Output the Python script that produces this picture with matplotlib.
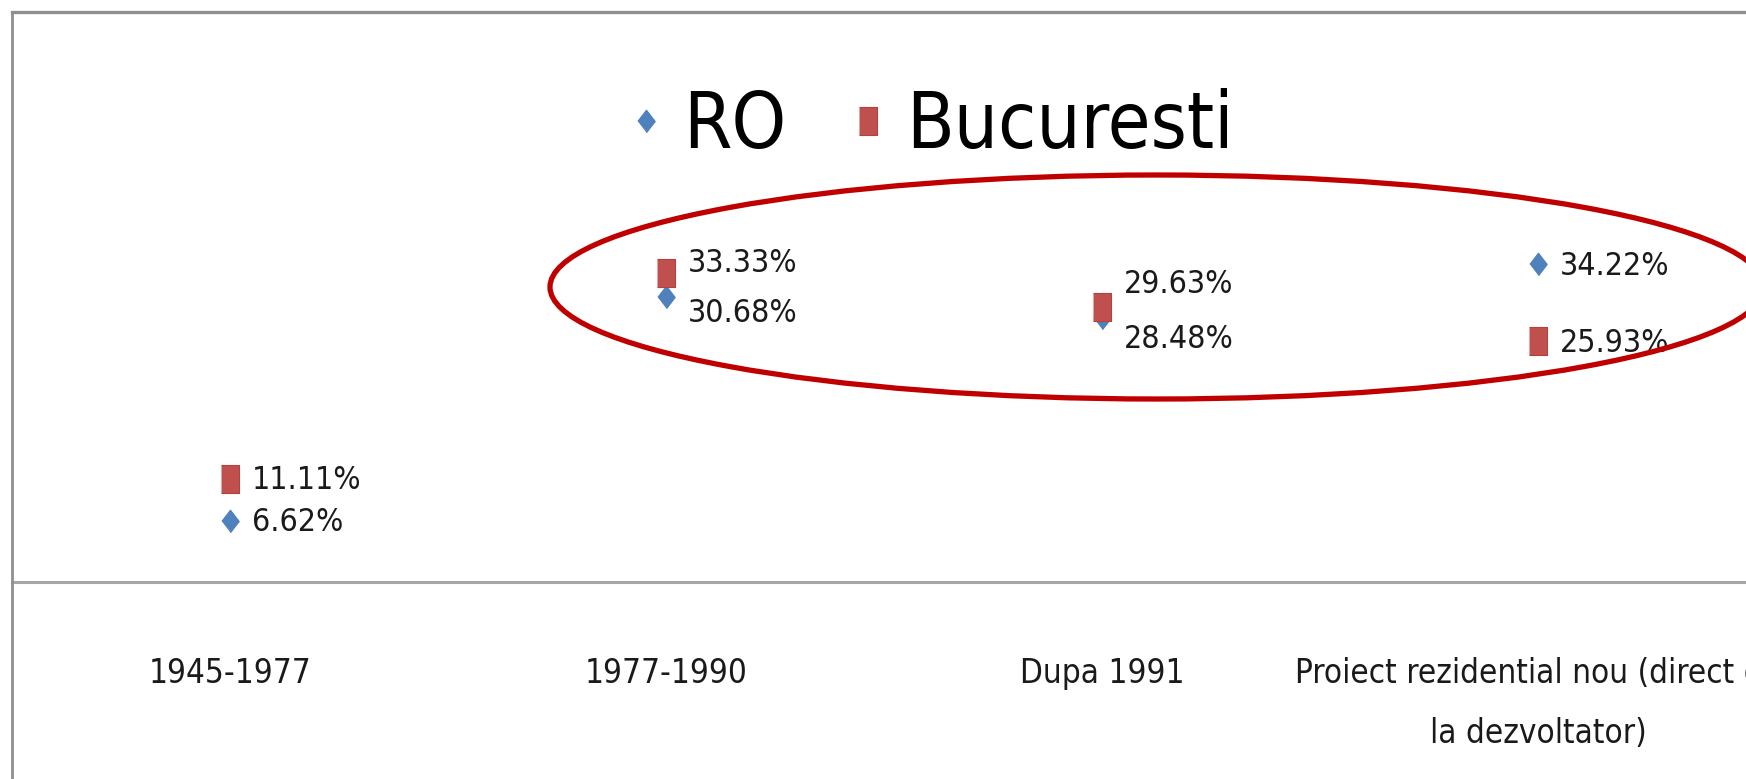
import matplotlib
matplotlib.use("Agg")
import matplotlib.pyplot as plt
from matplotlib import font_manager as fm
from matplotlib.font_manager import FontProperties
from matplotlib.patches import Ellipse
from matplotlib.lines import Line2D

# ---- data ----
categories = ["1945-1977", "1977-1990", "Dupa 1991",
              "Proiect rezidential nou (direct de\nla dezvoltator)"]
ro_values = [6.62, 30.68, 28.48, 34.22]
buc_values = [11.11, 33.33, 29.63, 25.93]
series_names = ["RO", "Bucuresti"]

# ---- font: prefer the most condensed installed sans face ----
def pick_font():
    best = None
    rank = {"ultra-condensed": 0, "extra-condensed": 1, "condensed": 2, "semi-condensed": 3}
    for f in fm.fontManager.ttflist:
        n = f.name.lower()
        if "mono" in n or ("serif" in n and "sans" not in n):
            continue
        if f.style != "normal":
            continue
        if f.weight not in (400, "normal", "regular", "book", "Regular"):
            continue
        st = f.stretch if isinstance(f.stretch, str) else "normal"
        r = rank.get(st)
        if r is None and ("narrow" in n or "condensed" in n):
            r = 2
        if r is None:
            continue
        if best is None or r < best[0]:
            best = (r, f.fname)
    return best if best else (None, None)

RANK, FNAME = pick_font()
def fp(size):
    if FNAME:
        return FontProperties(fname=FNAME, size=size)
    return FontProperties(family=["Liberation Sans", "DejaVu Sans"], size=size)

# size factors: narrower faces can be set larger
scale = {0: 1.08, 1: 1.04, 2: 0.9, 3: 0.85}.get(RANK, 0.8)

W, H = 1746, 779
fig = plt.figure(figsize=(W / 100, H / 100), dpi=100)
fig.patch.set_facecolor("white")

# plot area: x from 12 px to 12+4*436, y axis (0) at 582 px from top, top at 12 px
left_px, right_px = 12, 12 + 4 * 436
bot_px, top_px = 582, 12
ax = fig.add_axes([left_px / W, (H - bot_px) / H, (right_px - left_px) / W, (bot_px - top_px) / H])
ax.set_xlim(-0.5, 3.5)
ax.set_ylim(0, (bot_px - top_px) / 9.28)
ax.set_facecolor("none")
for s in ["left", "right", "top"]:
    ax.spines[s].set_visible(False)
ax.spines["bottom"].set_color("#a6a6a6")
ax.spines["bottom"].set_linewidth(2.2)
ax.set_yticks([])
ax.set_xticks(range(len(categories)), labels=categories)
for t in ax.get_xticklabels():
    t.set_fontproperties(fp(26.5 * scale))
    t.set_linespacing(2.05)
    t.set_color("#1a1a1a")
ax.tick_params(axis="x", length=0, pad=54)

x = list(range(len(categories)))
diamond = [(0, -0.5), (0.385, 0), (0, 0.5), (-0.385, 0)]
rect = [(-0.32, -0.5), (0.32, -0.5), (0.32, 0.5), (-0.32, 0.5)]
BLUE, RED = "#4F81BD", "#C0504D"

ax.plot(x, ro_values, linestyle="none", marker=diamond, markersize=16,
        color=BLUE, markeredgecolor=BLUE, label=series_names[0], clip_on=False, zorder=3)
ax.plot(x, buc_values, linestyle="none", marker=rect, markersize=20,
        color=RED, markeredgecolor="#B5403D", markeredgewidth=0.8,
        label=series_names[1], clip_on=False, zorder=4)

# data labels (vertical offsets in points to avoid overlap)
ro_dy = [0, -10, -14, 0]
buc_dy = [0, 8, 18, 0]
LBL = fp(25.5 * scale)
for xi, v, dy in zip(x, ro_values, ro_dy):
    ax.annotate(f"{v:.2f}%", (xi, v), xytext=(16, dy - 1.5), textcoords="offset points",
                ha="left", va="center", fontproperties=LBL, color="#1a1a1a", zorder=5)
for xi, v, dy in zip(x, buc_values, buc_dy):
    ax.annotate(f"{v:.2f}%", (xi, v), xytext=(16, dy - 1.5), textcoords="offset points",
                ha="left", va="center", fontproperties=LBL, color="#1a1a1a", zorder=5)

# legend
leg = fig.legend(loc="center left", bbox_to_anchor=(630 / W, (H - 126) / H),
                 ncol=2, frameon=False, prop=fp(62 * scale), handlelength=0.4,
                 handletextpad=0.29, columnspacing=0.85, borderpad=0, borderaxespad=0)

# chart frame (top and left edges visible)
fig.add_artist(Line2D([12 / W, 1], [(H - 12) / H, (H - 12) / H],
                      transform=fig.transFigure, color="#8f8f8f", linewidth=2.4))
fig.add_artist(Line2D([12 / W, 12 / W], [0, (H - 12) / H],
                      transform=fig.transFigure, color="#8f8f8f", linewidth=2.0))

# red highlight ellipse
ell = Ellipse((1157 / W, (H - 287) / H), width=1214 / W, height=224 / H,
              transform=fig.transFigure, fill=False, edgecolor="#C00000", linewidth=3.8,
              zorder=10)
fig.add_artist(ell)

fig.savefig("out.png", dpi=100)
